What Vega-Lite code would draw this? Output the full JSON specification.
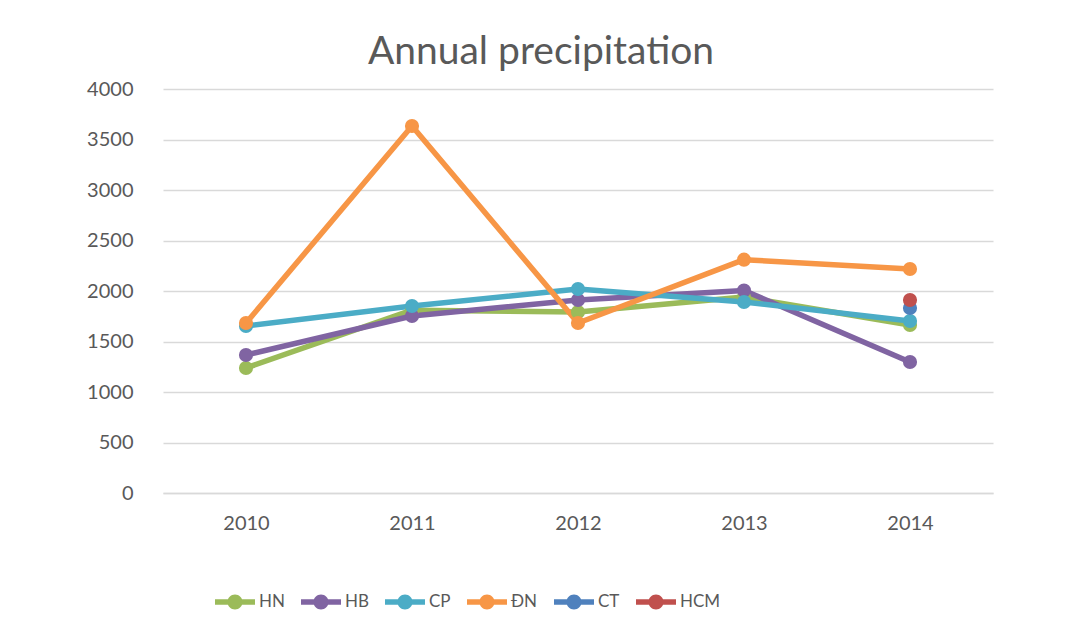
{
  "$schema": "https://vega.github.io/schema/vega-lite/v6.json",
  "width": 830,
  "height": 404,
  "autosize": {"type": "none"},
  "padding": {"left": 163, "top": 89, "right": 72, "bottom": 146},
  "background": "white",
  "title": {"text": "Annual precipitation", "fontSize": 39, "font": "Lato", "fontWeight": "normal", "color": "#595959", "anchor": "middle", "dx": -37, "offset": 7},
  "config": {"view": {"stroke": null}, "font": "Lato"},
  "data": {"values": [
    {"year": "2010", "series": "HN", "value": 1238},
    {"year": "2011", "series": "HN", "value": 1810},
    {"year": "2012", "series": "HN", "value": 1792},
    {"year": "2013", "series": "HN", "value": 1940},
    {"year": "2014", "series": "HN", "value": 1663},
    {"year": "2010", "series": "HB", "value": 1366},
    {"year": "2011", "series": "HB", "value": 1752},
    {"year": "2012", "series": "HB", "value": 1911},
    {"year": "2013", "series": "HB", "value": 2005},
    {"year": "2014", "series": "HB", "value": 1297},
    {"year": "2010", "series": "CP", "value": 1653},
    {"year": "2011", "series": "CP", "value": 1851},
    {"year": "2012", "series": "CP", "value": 2020},
    {"year": "2013", "series": "CP", "value": 1891},
    {"year": "2014", "series": "CP", "value": 1703},
    {"year": "2010", "series": "ĐN", "value": 1683},
    {"year": "2011", "series": "ĐN", "value": 3634},
    {"year": "2012", "series": "ĐN", "value": 1683},
    {"year": "2013", "series": "ĐN", "value": 2310},
    {"year": "2014", "series": "ĐN", "value": 2218},
    {"year": "2014", "series": "CT", "value": 1832},
    {"year": "2014", "series": "HCM", "value": 1911}
  ]},
  "encoding": {
    "x": {"field": "year", "type": "ordinal", "scale": {"type": "point", "padding": 0.5},
      "axis": {"title": null, "labelAngle": 0, "labelFontSize": 20, "labelColor": "#595959", "labelPadding": 20, "ticks": false, "domainColor": "#d9d9d9", "domainWidth": 1.5, "grid": false}},
    "y": {"field": "value", "type": "quantitative", "scale": {"domain": [0, 4000]},
      "axis": {"title": null, "values": [0, 500, 1000, 1500, 2000, 2500, 3000, 3500, 4000], "format": "d", "labelFontSize": 20, "labelColor": "#595959", "labelPadding": 30, "ticks": false, "domain": false, "gridColor": "#d9d9d9", "gridWidth": 1.5}},
    "color": {"field": "series", "type": "nominal",
      "scale": {"domain": ["HN", "HB", "CP", "ĐN", "CT", "HCM"], "range": ["#9BBB59", "#8064A2", "#4BACC6", "#F79646", "#4F81BD", "#C0504D"]},
      "legend": {"title": null, "orient": "none", "legendX": 62, "legendY": 503, "direction": "horizontal", "labelFontSize": 17, "labelColor": "#595959", "columnPadding": 16, "labelOffset": 14,
        "symbolType": "M-2,-0.28 L2,-0.28 L2,0.28 L-2,0.28 Z M-0.75,0 A0.75,0.75 0 1,1 0.75,0 A0.75,0.75 0 1,1 -0.75,0 Z", "symbolSize": 400, "symbolStrokeWidth": 0, "symbolStrokeColor": "transparent",
        "encode": {"symbols": {"update": {"fill": {"scale": "color", "field": "value"}, "opacity": {"value": 1}, "strokeWidth": {"value": 0}}}}}
    }
  },
  "layer": [
    {"mark": {"type": "line", "strokeWidth": 5.5, "strokeCap": "round", "strokeJoin": "round"}},
    {"mark": {"type": "point", "filled": true, "size": 200, "opacity": 1}}
  ]
}
